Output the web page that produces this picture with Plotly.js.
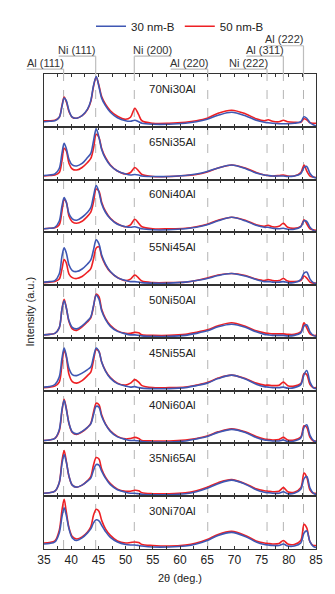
<!DOCTYPE html>
<html><head><meta charset="utf-8">
<script src="https://cdn.plot.ly/plotly-3.0.1.min.js"></script>
<style>html,body{margin:0;padding:0;background:#fff}#chart{width:335px;height:594px}</style>
</head><body><div id="chart"></div>
<script>
// 2θ sampling (deg.)
const twoTheta = [35,36,37,37.8,38.3,38.7,39.1,39.6,40.2,41,42,43,43.6,44.1,44.6,45.1,45.6,46.3,47.2,48.5,50,50.9,51.7,52.4,53,55,58,61,63,65,67,69.5,72,74,75.5,76.2,77,78.2,79,79.8,81,82.2,82.8,83.3,83.9,84.5,85];

const panelNames = ['70Ni30Al','65Ni35Al','60Ni40Al','55Ni45Al','50Ni50Al','45Ni55Al','40Ni60Al','35Ni65Al','30Ni70Al'];

// normalised intensity (a.u.), 30 nm-B
const nm30_70Ni30Al = [0.08,0.09,0.1,0.17,0.38,0.55,0.5,0.3,0.17,0.15,0.2,0.33,0.5,0.8,0.98,0.78,0.55,0.4,0.27,0.16,0.1,0.09,0.11,0.08,0.05,0.03,0.03,0.05,0.08,0.13,0.21,0.27,0.2,0.11,0.07,0.06,0.05,0.04,0.04,0.04,0.05,0.08,0.18,0.15,0.06,0.02,0.0];
const nm30_65Ni35Al = [0.06,0.07,0.09,0.2,0.5,0.7,0.6,0.38,0.27,0.25,0.3,0.42,0.5,0.75,0.99,0.82,0.58,0.4,0.26,0.15,0.09,0.07,0.08,0.07,0.05,0.04,0.04,0.06,0.09,0.14,0.21,0.27,0.2,0.11,0.07,0.06,0.05,0.05,0.05,0.04,0.05,0.1,0.22,0.24,0.1,0.03,0.01];
const nm30_60Ni40Al = [0.05,0.06,0.08,0.2,0.5,0.67,0.58,0.35,0.25,0.22,0.28,0.38,0.47,0.7,0.91,0.78,0.55,0.38,0.25,0.14,0.09,0.08,0.09,0.07,0.05,0.03,0.03,0.05,0.08,0.13,0.21,0.28,0.21,0.12,0.08,0.08,0.06,0.05,0.06,0.04,0.04,0.09,0.21,0.2,0.08,0.02,0.0];
const nm30_55Ni45Al = [0.04,0.05,0.07,0.2,0.55,0.72,0.62,0.38,0.27,0.25,0.3,0.4,0.48,0.68,0.88,0.8,0.58,0.4,0.25,0.13,0.07,0.05,0.05,0.04,0.03,0.02,0.02,0.04,0.07,0.11,0.17,0.21,0.16,0.09,0.05,0.05,0.04,0.04,0.05,0.03,0.03,0.09,0.22,0.24,0.1,0.03,0.01];
const nm30_50Ni50Al = [0.04,0.05,0.07,0.18,0.55,0.72,0.58,0.32,0.19,0.16,0.22,0.32,0.4,0.62,0.83,0.75,0.52,0.35,0.21,0.11,0.06,0.04,0.04,0.03,0.02,0.01,0.01,0.03,0.07,0.12,0.2,0.25,0.19,0.1,0.05,0.04,0.03,0.03,0.03,0.02,0.03,0.08,0.22,0.24,0.1,0.03,0.01];
const nm30_45Ni55Al = [0.05,0.06,0.1,0.25,0.62,0.83,0.68,0.42,0.3,0.28,0.33,0.4,0.45,0.65,0.83,0.76,0.55,0.37,0.23,0.12,0.07,0.05,0.06,0.04,0.03,0.02,0.02,0.04,0.08,0.13,0.22,0.29,0.21,0.11,0.06,0.05,0.04,0.04,0.05,0.03,0.04,0.1,0.3,0.38,0.15,0.04,0.02];
const nm30_40Ni60Al = [0.04,0.05,0.08,0.25,0.65,0.84,0.66,0.38,0.21,0.17,0.22,0.3,0.37,0.55,0.72,0.7,0.52,0.36,0.22,0.11,0.06,0.04,0.04,0.03,0.02,0.01,0.01,0.03,0.07,0.12,0.2,0.26,0.2,0.1,0.05,0.04,0.03,0.03,0.05,0.02,0.03,0.09,0.3,0.35,0.14,0.04,0.01];
const nm30_35Ni65Al = [0.04,0.05,0.08,0.25,0.62,0.81,0.66,0.38,0.2,0.16,0.2,0.28,0.34,0.5,0.61,0.6,0.48,0.34,0.21,0.11,0.06,0.04,0.04,0.03,0.02,0.01,0.01,0.03,0.07,0.14,0.23,0.3,0.22,0.11,0.06,0.05,0.04,0.04,0.07,0.03,0.04,0.12,0.33,0.37,0.14,0.04,0.01];
const nm30_30Ni70Al = [0.08,0.09,0.12,0.3,0.62,0.8,0.65,0.38,0.2,0.15,0.2,0.3,0.38,0.5,0.56,0.54,0.45,0.33,0.21,0.12,0.07,0.06,0.06,0.05,0.04,0.02,0.02,0.04,0.08,0.15,0.25,0.31,0.23,0.12,0.07,0.06,0.05,0.05,0.08,0.04,0.04,0.1,0.3,0.34,0.12,0.03,0.01];

// normalised intensity (a.u.), 50 nm-B
const nm50_70Ni30Al = [0.1,0.1,0.11,0.17,0.4,0.57,0.48,0.28,0.17,0.15,0.2,0.32,0.48,0.78,0.97,0.8,0.58,0.43,0.3,0.19,0.13,0.17,0.35,0.22,0.1,0.05,0.05,0.07,0.1,0.15,0.25,0.31,0.24,0.14,0.1,0.12,0.09,0.08,0.11,0.08,0.07,0.07,0.14,0.12,0.06,0.05,0.05];
const nm50_65Ni35Al = [0.05,0.06,0.07,0.12,0.35,0.6,0.55,0.3,0.19,0.17,0.22,0.32,0.4,0.6,0.88,0.82,0.6,0.42,0.27,0.15,0.09,0.12,0.22,0.15,0.08,0.04,0.04,0.06,0.08,0.13,0.21,0.27,0.21,0.12,0.07,0.06,0.05,0.06,0.07,0.05,0.05,0.12,0.27,0.15,0.05,0.03,0.02];
const nm50_60Ni40Al = [0.05,0.06,0.07,0.13,0.4,0.63,0.58,0.3,0.19,0.16,0.2,0.3,0.38,0.58,0.84,0.8,0.58,0.4,0.26,0.15,0.09,0.13,0.24,0.16,0.09,0.05,0.05,0.06,0.09,0.14,0.22,0.28,0.22,0.13,0.1,0.12,0.09,0.1,0.16,0.08,0.06,0.1,0.23,0.15,0.05,0.03,0.02];
const nm50_55Ni45Al = [0.03,0.04,0.05,0.1,0.3,0.49,0.42,0.2,0.13,0.11,0.15,0.24,0.31,0.5,0.72,0.74,0.55,0.38,0.24,0.13,0.07,0.1,0.18,0.12,0.06,0.03,0.03,0.04,0.07,0.12,0.18,0.21,0.17,0.1,0.07,0.09,0.07,0.07,0.11,0.06,0.05,0.07,0.16,0.12,0.04,0.02,0.02];
const nm50_50Ni50Al = [0.04,0.05,0.07,0.18,0.55,0.75,0.58,0.3,0.16,0.13,0.2,0.3,0.38,0.6,0.85,0.8,0.55,0.37,0.23,0.12,0.07,0.07,0.09,0.08,0.04,0.03,0.03,0.05,0.09,0.14,0.22,0.28,0.21,0.12,0.08,0.07,0.06,0.06,0.06,0.05,0.05,0.1,0.28,0.18,0.06,0.03,0.03];
const nm50_45Ni55Al = [0.04,0.05,0.07,0.15,0.5,0.79,0.65,0.3,0.16,0.13,0.18,0.28,0.35,0.58,0.8,0.76,0.55,0.38,0.24,0.13,0.09,0.13,0.2,0.15,0.08,0.04,0.04,0.05,0.09,0.14,0.23,0.29,0.22,0.13,0.09,0.09,0.08,0.09,0.15,0.08,0.07,0.12,0.32,0.3,0.1,0.04,0.04];
const nm50_40Ni60Al = [0.04,0.05,0.08,0.23,0.62,0.86,0.68,0.37,0.2,0.16,0.21,0.3,0.38,0.6,0.78,0.75,0.55,0.37,0.23,0.12,0.07,0.08,0.1,0.08,0.04,0.03,0.03,0.05,0.08,0.13,0.21,0.27,0.21,0.12,0.07,0.06,0.05,0.06,0.1,0.05,0.05,0.11,0.33,0.3,0.1,0.03,0.03];
const nm50_35Ni65Al = [0.04,0.05,0.08,0.25,0.68,0.89,0.68,0.37,0.2,0.16,0.2,0.29,0.37,0.6,0.75,0.72,0.52,0.36,0.23,0.12,0.08,0.08,0.1,0.09,0.05,0.03,0.03,0.05,0.09,0.16,0.25,0.31,0.23,0.13,0.09,0.08,0.07,0.08,0.15,0.07,0.06,0.15,0.44,0.36,0.1,0.04,0.04];
const nm50_30Ni70Al = [0.1,0.11,0.14,0.35,0.75,0.97,0.72,0.4,0.23,0.18,0.22,0.32,0.42,0.65,0.77,0.73,0.55,0.38,0.25,0.14,0.1,0.11,0.12,0.11,0.07,0.05,0.04,0.06,0.1,0.17,0.27,0.33,0.25,0.14,0.1,0.09,0.08,0.09,0.15,0.08,0.07,0.15,0.47,0.4,0.12,0.05,0.05];

const series30 = [nm30_70Ni30Al,nm30_65Ni35Al,nm30_60Ni40Al,nm30_55Ni45Al,nm30_50Ni50Al,nm30_45Ni55Al,nm30_40Ni60Al,nm30_35Ni65Al,nm30_30Ni70Al];
const series50 = [nm50_70Ni30Al,nm50_65Ni35Al,nm50_60Ni40Al,nm50_55Ni45Al,nm50_50Ni50Al,nm50_45Ni55Al,nm50_40Ni60Al,nm50_35Ni65Al,nm50_30Ni70Al];

// reference reflections
const refNames = ['Al (111)','Ni (111)','Ni (200)','Al (220)','Ni (222)','Al (311)','Al (222)'];
const refPos = [38.6, 44.5, 51.6, 65.1, 76.0, 79.0, 82.7];

const xTickVals = [35,40,45,50,55,60,65,70,75,80,85];

// ---- geometry ----
const W = 335, H = 594, ML = 44, MR = 19, MT = 61, MB = 45;
const PW = W - ML - MR, PH = H - MT - MB;
const pxX = v => (v - ML) / PW;          // pixel x -> paper
const pxY = v => (H - MB - v) / PH;      // pixel y -> paper
const n = panelNames.length;
const BLUE = '#3f57b3', RED = '#ee2024';
const FONT = 'Liberation Sans, Arial, Helvetica, sans-serif';

const traces = [], layout = {
  width: W, height: H, margin: {l: ML, r: MR, t: MT, b: MB},
  paper_bgcolor: '#fff', plot_bgcolor: '#fff',
  font: {family: FONT, size: 11, color: '#222'},
  showlegend: true,
  legend: {orientation: 'h', x: 0.5, xanchor: 'center', y: pxY(12), yanchor: 'middle',
           font: {size: 11.5, color: '#222'}, itemwidth: 30, tracegroupgap: 0},
  annotations: [], shapes: []
};

for (let i = 0; i < n; i++) {
  const k = i + 1;
  const xa = k === 1 ? 'x' : 'x' + k, ya = k === 1 ? 'y' : 'y' + k;
  const xk = k === 1 ? 'xaxis' : 'xaxis' + k, yk = k === 1 ? 'yaxis' : 'yaxis' + k;
  traces.push({x: twoTheta, y: series50[i], xaxis: xa, yaxis: ya, type: 'scatter', mode: 'lines',
    name: '50 nm-B', legendgroup: 'b50', legendrank: 2, showlegend: i === 0,
    line: {color: RED, width: 1.6, shape: 'spline', smoothing: 0.9}});
  traces.push({x: twoTheta, y: series30[i], xaxis: xa, yaxis: ya, type: 'scatter', mode: 'lines',
    name: '30 nm-B', legendgroup: 'b30', legendrank: 1, showlegend: i === 0,
    line: {color: BLUE, width: 1.6, shape: 'spline', smoothing: 0.9}});
  layout[xk] = {
    domain: [0, 1], anchor: ya, range: [35, 85], showgrid: false, zeroline: false,
    showline: true, mirror: 'ticks', linecolor: '#333', linewidth: 1,
    ticks: 'inside', ticklen: 3, tickcolor: '#333', tickvals: xTickVals,
    minor: {ticks: 'inside', dtick: 2.5, tick0: 35, ticklen: 3, tickcolor: '#333'},
    showticklabels: k === n, tickfont: {size: 12, color: '#222'}
  };
  if (k > 1) layout[xk].matches = 'x';
  layout[yk] = {
    domain: [1 - (i + 1) / n, 1 - i / n], anchor: xa, range: [-0.02, 1.03],
    showgrid: false, zeroline: false, showline: true, mirror: true,
    linecolor: '#333', linewidth: 1, ticks: '', showticklabels: false, fixedrange: true
  };
  layout.annotations.push({text: panelNames[i], xref: xa, yref: ya + ' domain',
    x: 58.6, y: 0.72, xanchor: 'center', yanchor: 'middle', showarrow: false,
    font: {size: 11.5, color: '#222'}});
}

// dashed reference lines through all panels
refPos.forEach(p => {
  layout.shapes.push({type: 'line', xref: 'x', yref: 'paper', x0: p, x1: p, y0: 0, y1: 1,
    layer: 'below', line: {color: '#b4b4b4', width: 1, dash: 'dash'}});
});

// bracket labels above the plot
const labelRow = [1, 2, 2, 1, 1, 2, 3];
const labelSide = [-1, -1, 1, -1, -1, -1, -1];
const rowUnderY = {1: 56, 2: 42.7, 3: 32};
refNames.forEach((name, j) => {
  const dx = ML + (refPos[j] - 35) / 50 * PW;
  const uy = rowUnderY[labelRow[j]];
  const cx = dx + labelSide[j] * 18.5;
  const far = dx + labelSide[j] * 37;
  layout.shapes.push({type: 'line', xref: 'paper', yref: 'paper',
    x0: pxX(far), x1: pxX(dx), y0: pxY(uy), y1: pxY(uy), line: {color: '#bdbdbd', width: 1.2}});
  layout.shapes.push({type: 'line', xref: 'paper', yref: 'paper',
    x0: pxX(dx), x1: pxX(dx), y0: pxY(uy), y1: 1, line: {color: '#bdbdbd', width: 1.2}});
  layout.annotations.push({text: name, xref: 'paper', yref: 'paper', x: pxX(cx), y: pxY(uy - 6.8),
    xanchor: 'center', yanchor: 'middle', showarrow: false, font: {size: 11, color: '#333'}});
});

// axis titles
layout.annotations.push({text: 'Intensity (a.u.)', xref: 'paper', yref: 'paper', x: pxX(29), y: 0.5,
  xanchor: 'center', yanchor: 'middle', textangle: -90, showarrow: false, font: {size: 11, color: '#222'}});
layout.annotations.push({text: '2θ (deg.)', xref: 'paper', yref: 'paper', x: 0.5, y: pxY(579),
  xanchor: 'center', yanchor: 'middle', showarrow: false, font: {size: 11, color: '#222'}});

Plotly.newPlot('chart', traces, layout, {displayModeBar: false, staticPlot: true});
</script>
</body></html>
